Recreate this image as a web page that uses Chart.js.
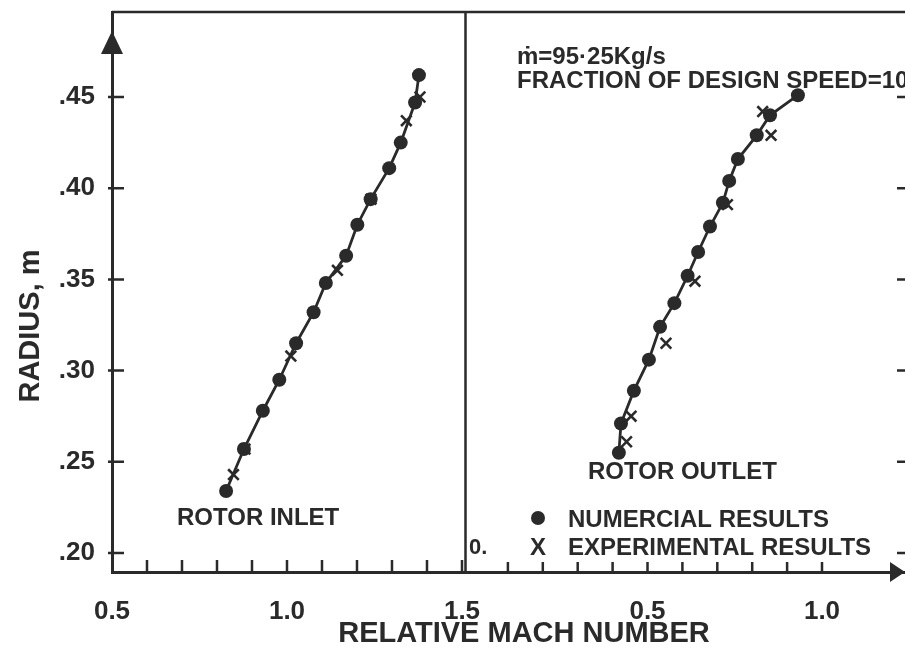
<!DOCTYPE html>
<html>
<head>
<meta charset="utf-8">
<script src="https://cdn.jsdelivr.net/npm/chart.js@4.4.0/dist/chart.umd.min.js"></script>
<style>
  body { margin: 0; background: #ffffff; width: 905px; height: 662px; overflow: hidden; position: relative; }
  #inlet { position: absolute; left: 0; top: 0; }
  #outlet { position: absolute; left: 467px; top: 0; }
  .xtitle {
    position: absolute; left: 0; width: 1048px; top: 616px; text-align: center;
    font: bold 29px "Liberation Sans", Arial, sans-serif; color: #2a2a2a; line-height: 32px;
  }
</style>
</head>
<body>
<canvas id="inlet" width="905" height="662"></canvas>
<canvas id="outlet" width="438" height="662"></canvas>
<div class="xtitle">RELATIVE MACH NUMBER</div>
<script>
// radius axis (m) shared by both panels
const radiusTicks = [0.20, 0.25, 0.30, 0.35, 0.40, 0.45];

// rotor inlet panel
const inletMachTicks = [0.5, 0.6, 0.7, 0.8, 0.9, 1.0, 1.1, 1.2, 1.3, 1.4, 1.5];
const inletMachLabels = ['0.5', '1.0', '1.5'];
const inletNumMach   = [0.826, 0.877, 0.931, 0.978, 1.026, 1.076, 1.111, 1.169, 1.201, 1.239, 1.292, 1.325, 1.366, 1.377];
const inletNumRadius = [0.234, 0.257, 0.278, 0.295, 0.315, 0.332, 0.348, 0.363, 0.380, 0.394, 0.411, 0.425, 0.447, 0.462];
const inletExpMach   = [0.847, 0.880, 1.011, 1.144, 1.240, 1.341, 1.380];
const inletExpRadius = [0.243, 0.257, 0.308, 0.355, 0.394, 0.437, 0.450];

// rotor outlet panel
const outletMachTicks = [0, 0.1, 0.2, 0.3, 0.4, 0.5, 0.6, 0.7, 0.8, 0.9, 1.0];
const outletMachLabels = ['0.5', '1.0'];
const outletNumMach   = [0.418, 0.424, 0.461, 0.504, 0.536, 0.577, 0.615, 0.645, 0.679, 0.716, 0.734, 0.759, 0.813, 0.851, 0.931];
const outletNumRadius = [0.255, 0.271, 0.289, 0.306, 0.324, 0.337, 0.352, 0.365, 0.379, 0.392, 0.404, 0.416, 0.429, 0.440, 0.451];
const outletExpMach   = [0.440, 0.453, 0.553, 0.636, 0.729, 0.854, 0.830];
const outletExpRadius = [0.261, 0.275, 0.315, 0.349, 0.391, 0.429, 0.442];

const INK = '#2a2a2a';
const FONT = '"Liberation Sans", Arial, sans-serif';

function pairs(xs, ys) {
  return xs.map((x, i) => ({ x: x, y: ys[i] }));
}

function datasets(numX, numY, expX, expY) {
  return [{
    label: 'NUMERCIAL RESULTS',
    data: pairs(numX, numY),
    showLine: true,
    borderColor: INK,
    borderWidth: 2.8,
    tension: 0,
    pointStyle: 'circle',
    pointRadius: 7,
    pointBackgroundColor: INK,
    pointBorderWidth: 0
  }, {
    label: 'EXPERIMENTAL RESULTS',
    data: pairs(expX, expY),
    showLine: false,
    pointStyle: 'crossRot',
    pointRadius: 7.5,
    pointBorderColor: INK,
    pointBorderWidth: 2.6
  }];
}

// keep the plot area fixed: no extra room for overhanging tick labels
function noOverhang(s) {
  s.paddingLeft = 0; s.paddingRight = 0; s.paddingTop = 0; s.paddingBottom = 0;
}

function machAxis(min, max, values, labels) {
  return {
    type: 'linear',
    min: min,
    max: max,
    afterBuildTicks: s => { s.ticks = values.map(v => ({ value: v })); },
    afterFit: s => { s.height = 90; noOverhang(s); },
    grid: { display: false, drawTicks: false },
    border: { display: true, color: INK, width: 3 },
    ticks: {
      autoSkip: false, maxRotation: 0, padding: 24, color: INK,
      font: { family: FONT, size: 26, weight: 'bold' },
      callback: v => labels.includes(v.toFixed(1)) ? v.toFixed(1) : ''
    }
  };
}

function radiusAxis(show) {
  return {
    type: 'linear',
    display: show,
    min: 0.1896,
    max: 0.4966,
    afterBuildTicks: s => { s.ticks = radiusTicks.map(v => ({ value: v })); },
    afterFit: s => { s.width = show ? 112 : 0; noOverhang(s); },
    grid: { display: false, drawTicks: false },
    border: { display: true, color: INK, width: 3 },
    ticks: {
      padding: 17, color: INK,
      font: { family: FONT, size: 26, weight: 'bold' },
      callback: v => v.toFixed(2).replace(/^0/, '')
    }
  };
}

function text(ctx, str, x, y, size, align) {
  ctx.font = 'bold ' + size + 'px ' + FONT;
  ctx.textAlign = align || 'left';
  ctx.textBaseline = 'middle';
  ctx.fillText(str, x, y);
}

// frame, inward ticks, arrow and labels of the inlet panel
const inletFrame = {
  id: 'inletFrame',
  afterDraw(chart) {
    const { ctx, chartArea: a, scales: { x, y } } = chart;
    ctx.save();
    ctx.strokeStyle = INK;
    ctx.fillStyle = INK;
    ctx.lineWidth = 2.5;
    ctx.beginPath();
    ctx.moveTo(a.left, a.top); ctx.lineTo(a.right, a.top);
    ctx.moveTo(a.right - 1.5, a.top); ctx.lineTo(a.right - 1.5, a.bottom);
    ctx.stroke();

    ctx.beginPath();
    inletMachTicks.forEach(v => {
      if (v <= x.min) return;
      const px = x.getPixelForValue(v);
      ctx.moveTo(px, a.bottom); ctx.lineTo(px, a.bottom - 12);
    });
    radiusTicks.forEach(v => {
      const py = y.getPixelForValue(v);
      ctx.moveTo(a.left - 4, py); ctx.lineTo(a.left + 12, py);
    });
    ctx.stroke();

    // arrow head on top of the radius axis
    ctx.beginPath();
    ctx.moveTo(a.left, a.top + 19);
    ctx.lineTo(a.left - 11, a.top + 42);
    ctx.lineTo(a.left + 11, a.top + 42);
    ctx.closePath();
    ctx.fill();

    text(ctx, 'ROTOR INLET', 177, 518, 24);

    ctx.translate(31, 326);
    ctx.rotate(-Math.PI / 2);
    text(ctx, 'RADIUS, m', 0, 0, 29, 'center');
    ctx.restore();
  }
};

// frame, ticks, arrow, notes and key of the outlet panel
const outletFrame = {
  id: 'outletFrame',
  afterDraw(chart) {
    const { ctx, chartArea: a, scales: { x, y } } = chart;
    ctx.save();
    ctx.strokeStyle = INK;
    ctx.fillStyle = INK;
    ctx.lineWidth = 2.5;
    ctx.beginPath();
    ctx.moveTo(a.left, a.top); ctx.lineTo(a.right, a.top);
    outletMachTicks.forEach(v => {
      if (v <= 0) return;
      const px = x.getPixelForValue(v);
      ctx.moveTo(px, a.bottom); ctx.lineTo(px, a.bottom - 10);
    });
    radiusTicks.forEach(v => {
      const py = y.getPixelForValue(v);
      ctx.moveTo(a.right - 8, py); ctx.lineTo(a.right, py);
    });
    ctx.stroke();

    // arrow head at the end of the Mach axis
    ctx.beginPath();
    ctx.moveTo(a.right, a.bottom);
    ctx.lineTo(a.right - 15, a.bottom - 10);
    ctx.lineTo(a.right - 15, a.bottom + 10);
    ctx.closePath();
    ctx.fill();

    text(ctx, '\u1E41=95\u00B725Kg/s', 50, 57, 24);
    text(ctx, 'FRACTION OF DESIGN SPEED=10', 50, 81, 24);
    text(ctx, 'ROTOR OUTLET', 121, 472, 24);
    text(ctx, '0.', 2, 548, 22);

    ctx.beginPath();
    ctx.arc(71, 518, 7, 0, Math.PI * 2);
    ctx.fill();
    text(ctx, 'NUMERCIAL RESULTS', 101, 520, 24);
    text(ctx, 'X', 71, 548, 24, 'center');
    text(ctx, 'EXPERIMENTAL RESULTS', 101, 548, 24);
    ctx.restore();
  }
};

function options(padRight, scales) {
  return {
    responsive: false,
    animation: false,
    layout: { autoPadding: false, padding: { top: 12, left: 0, right: padRight, bottom: 0 } },
    plugins: { legend: { display: false }, tooltip: { enabled: false } },
    scales: scales
  };
}

// the inlet canvas spans the page so its "1.5" label is not cut at the divider;
// its plot area stops at the divider and the outlet canvas sits over the rest
new Chart(document.getElementById('inlet'), {
  type: 'scatter',
  data: { datasets: datasets(inletNumMach, inletNumRadius, inletExpMach, inletExpRadius) },
  options: options(438, {
    x: machAxis(0.5, 1.5143, inletMachTicks, inletMachLabels),
    y: radiusAxis(true)
  }),
  plugins: [inletFrame]
});

new Chart(document.getElementById('outlet'), {
  type: 'scatter',
  data: { datasets: datasets(outletNumMach, outletNumRadius, outletExpMach, outletExpRadius) },
  options: options(0, {
    x: machAxis(-0.0172, 1.2378, outletMachTicks, outletMachLabels),
    y: radiusAxis(false)
  }),
  plugins: [outletFrame]
});
</script>
</body>
</html>
